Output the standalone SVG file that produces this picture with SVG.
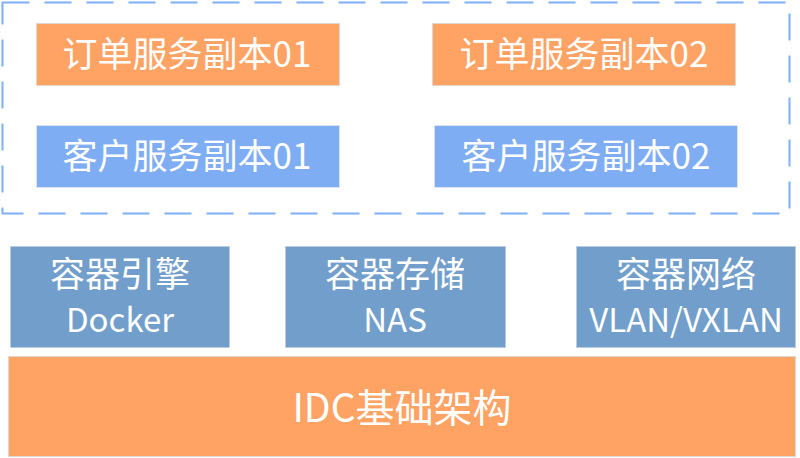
<svg xmlns="http://www.w3.org/2000/svg" width="800" height="458" viewBox="0 0 800 458">
<style>
.o{fill:#FFA365;stroke:#E3D6CC;stroke-width:1}
.b{fill:#7FADF3;stroke:#DCE3EE;stroke-width:1}
.s{fill:#729ECB;stroke:#B9CCE0;stroke-width:1}
text{font-family:"Noto Sans CJK SC","Noto Sans",sans-serif;fill:#FFFFFF;text-anchor:middle}
.t{font-size:35px}
.m{font-size:35px}
.n{font-size:33px}
.l{font-size:39px}
</style>
<rect width="800" height="458" fill="#FFFFFF"/>
<g id="pod-group">
<path d="M2.5 2.5H789.5V213.5H2.5Z" fill="none" stroke="#7FAEF2" stroke-width="2" stroke-dasharray="27 15"/>
</g>
<g id="order01"><rect class="o" x="36.5" y="23.5" width="303" height="62"/><text class="t" x="187" y="67">订单服务副本01</text></g>
<g id="order02"><rect class="o" x="432.5" y="23.5" width="303" height="62"/><text class="t" x="584" y="67">订单服务副本02</text></g>
<g id="customer01"><rect class="b" x="36.5" y="125.5" width="303" height="62"/><text class="t" x="187" y="169">客户服务副本01</text></g>
<g id="customer02"><rect class="b" x="434.5" y="125.5" width="303" height="62"/><text class="t" x="586" y="169">客户服务副本02</text></g>
<g id="engine"><rect class="s" x="10.5" y="246.5" width="219" height="101"/><text class="m" x="120" y="287">容器引擎</text><text class="n" x="120" y="332">Docker</text></g>
<g id="storage"><rect class="s" x="285.5" y="246.5" width="220" height="101"/><text class="m" x="395" y="287">容器存储</text><text class="n" x="395" y="332">NAS</text></g>
<g id="network"><rect class="s" x="576.5" y="246.5" width="219" height="101"/><text class="m" x="686" y="287">容器网络</text><text class="n" x="686" y="332">VLAN/VXLAN</text></g>
<g id="idc"><rect class="o" x="8.5" y="356.5" width="787" height="100"/><text class="l" x="402" y="422">IDC基础架构</text></g>
<g id="connectors"></g>
</svg>
